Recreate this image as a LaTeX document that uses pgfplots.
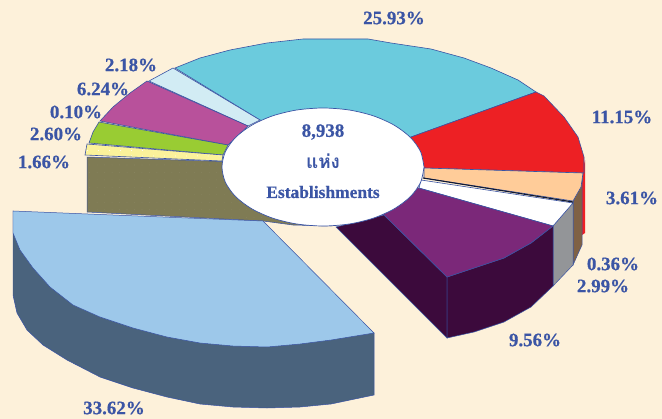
\documentclass[border=0pt]{standalone}
\usepackage{fontspec}
\setmainfont[BoldFeatures={FakeBold=0.6}]{Liberation Serif}
\newfontfamily\thaifont[Script=Thai]{Loma}
\usepackage{pgfplots}
\pgfplotsset{compat=1.18}
\usetikzlibrary{patterns}

\pgfdeclarepatternformonly{olivedots}{\pgfqpoint{-1pt}{-1pt}}{\pgfqpoint{1pt}{1pt}}{\pgfqpoint{7.5pt}{7.5pt}}{\pgfpathcircle{\pgfqpoint{0pt}{0pt}}{0.35pt}\pgfusepath{fill}}
\pgfdeclarepatternformonly{yellowdots}{\pgfqpoint{-1pt}{-1pt}}{\pgfqpoint{1pt}{1pt}}{\pgfqpoint{11pt}{5.5pt}}{\pgfpathcircle{\pgfqpoint{0pt}{0pt}}{0.5pt}\pgfusepath{fill}}

\definecolor{bg}{HTML}{FDF1DA}
\definecolor{edge}{HTML}{3953A4}
\definecolor{txt}{HTML}{3B55A5}
\definecolor{cyanT}{HTML}{6BCBDD}
\definecolor{redT}{HTML}{ED2024}
\definecolor{peachT}{HTML}{FFCC99}
\definecolor{brownS}{HTML}{7F6145}
\definecolor{grayS}{HTML}{939598}
\definecolor{plumT}{HTML}{7B2879}
\definecolor{plumS}{HTML}{3C0A3C}
\definecolor{blueT}{HTML}{9DC8EA}
\definecolor{blueS}{HTML}{4A637D}
\definecolor{oliveS}{HTML}{7F7B54}
\definecolor{oliveD}{HTML}{8C8966}
\definecolor{yellowT}{HTML}{FBF29B}
\definecolor{greenT}{HTML}{99CC33}
\definecolor{pinkT}{HTML}{B8519B}
\definecolor{paleT}{HTML}{D2ECF4}

\newcommand{\lab}[3]{\node[font=\fontsize{19}{19}\selectfont\bfseries, text=txt] at (axis cs:#1,#2) {#3};}

\begin{document}
\begin{tikzpicture}
\begin{axis}[
  scale only axis,
  width=662bp, height=419bp,
  xmin=0, xmax=662, ymin=0, ymax=419,
  y dir=reverse,
  hide axis,
  enlargelimits=false,
]
% background
\addplot[draw=none, fill=bg] coordinates {(0,0) (662,0) (662,419) (0,419)} --cycle;

% far walls
\addplot[draw=edge, fill=oliveS, line width=0.5pt] coordinates {(87,157) (330,165) (331,226) (293,225) (263,221) (87,212)} --cycle;
\addplot[draw=none, pattern=olivedots, pattern color=oliveD] coordinates {(89,159) (330,167) (330,224) (293,223) (263,219) (89,210)} --cycle;
\addplot[draw=none, fill=redT] coordinates {(582,173) (585,160) (585,233) (582,235)} --cycle;
\addplot[draw=edge, fill=brownS, line width=0.5pt] coordinates {(583,173) (582,185) (582,245) (573,265) (573,202)} --cycle;
\addplot[draw=edge, fill=grayS, line width=0.5pt] coordinates {(553,226) (573,202) (573,265) (553,286)} --cycle;

% top faces of the back slices
\addplot[draw=edge, fill=cyanT, line width=0.6pt] coordinates {(175,68) (200,58) (230,50) (267,43) (303,39) (331,39) (368,39) (391,43) (431,49) (464,58) (491,68) (518,80) (536,92) (411,137) (330,160) (260,120)} --cycle;
\addplot[draw=edge, fill=redT, line width=0.6pt] coordinates {(536,92) (544,96) (564,117) (578,137) (584,157) (584,173) (424,168) (400,150) (411,137)} --cycle;
\addplot[draw=edge, fill=paleT, line width=0.6pt] coordinates {(149,81) (173,68) (260,120) (248,126)} --cycle;
\addplot[draw=edge, fill=pinkT, line width=0.6pt] coordinates {(147,81) (130,93) (113,107) (100,121) (228,145) (248,126)} --cycle;
\addplot[draw=edge, fill=greenT, line width=0.6pt] coordinates {(99,122) (93,132) (89,143) (223,155) (228,145)} --cycle;
\addplot[draw=edge, fill=yellowT, line width=0.6pt] coordinates {(87,144) (85,155) (222,161) (223,155)} --cycle;
\addplot[draw=none, pattern=yellowdots, pattern color=white] coordinates {(87,146) (86,154) (222,160) (223,156)} --cycle;
\addplot[draw=edge, fill=peachT, line width=0.6pt] coordinates {(424,168) (583,173) (581,187) (573,201) (424,178)} --cycle;
\addplot[draw=edge, fill=white, line width=0.6pt] coordinates {(421,180) (573,203) (553,226) (419,188)} --cycle;
\addplot[draw=black!70!edge, line width=1.1pt] coordinates {(423,178) (573,202)};

% plum slice
\addplot[draw=edge, fill=plumS, line width=0.5pt] coordinates {(336,227) (447,338) (447,277) (384,215)} --cycle;
\addplot[draw=edge, fill=plumS, line width=0.5pt] coordinates {(447,277) (474,268) (504,258) (531,243) (553,226) (553,286) (531,307) (504,322) (474,332) (447,338)} --cycle;
\addplot[draw=edge, fill=plumT, line width=0.6pt] coordinates {(375,206) (447,277) (474,268) (504,258) (531,243) (553,226) (415,187)} --cycle;

% exploded blue slice
\addplot[draw=edge, fill=blueS, line width=0.5pt] coordinates {(13,211) (13,295) (17,313) (27,330) (43,345) (67,360) (100,377) (133,388) (167,397) (200,404) (233,407) (267,408) (300,407) (331,404) (374,395) (374,333)} --cycle;
\addplot[draw=edge, fill=blueT, line width=0.5pt] coordinates {(13,211) (263,221) (374,333) (331,340) (300,344) (267,347) (233,346) (200,343) (167,337) (133,328) (100,317) (73,305) (50,287) (33,268) (20,250) (13,233)} --cycle;

% centre hole
\addplot[draw=edge, fill=white, line width=0.7pt, smooth] coordinates {
  (424,167) (420.6,182.3) (410.5,196.5) (394.4,208.7) (373.5,218.1) (349.2,224)
  (323,226) (296.8,224) (272.5,218.1) (251.6,208.7) (235.5,196.5) (225.4,182.3)
  (222,167) (225.4,151.7) (235.5,137.5) (251.6,125.3) (272.5,115.9) (296.8,110)
  (323,108) (349.2,110) (373.5,115.9) (394.4,125.3) (410.5,137.5) (420.6,151.7) (424,167)};

\lab{394}{18}{25.93\%}
\lab{622}{117}{11.15\%}
\lab{632}{198}{3.61\%}
\lab{613}{264}{0.36\%}
\lab{603}{286}{2.99\%}
\lab{535}{340}{9.56\%}
\lab{114}{408}{33.62\%}
\lab{44}{162}{1.66\%}
\lab{56}{134}{2.60\%}
\lab{76}{112}{0.10\%}
\lab{103}{89}{6.24\%}
\lab{131}{65}{2.18\%}

\lab{323}{132}{8,938}
\node[font=\fontsize{19}{19}\thaifont\bfseries, text=txt] at (axis cs:323,161) {แห่ง};
\node[font=\fontsize{17.5}{17.5}\selectfont\bfseries, text=txt] at (axis cs:323,192) {Establishments};
\end{axis}
\end{tikzpicture}
\end{document}
